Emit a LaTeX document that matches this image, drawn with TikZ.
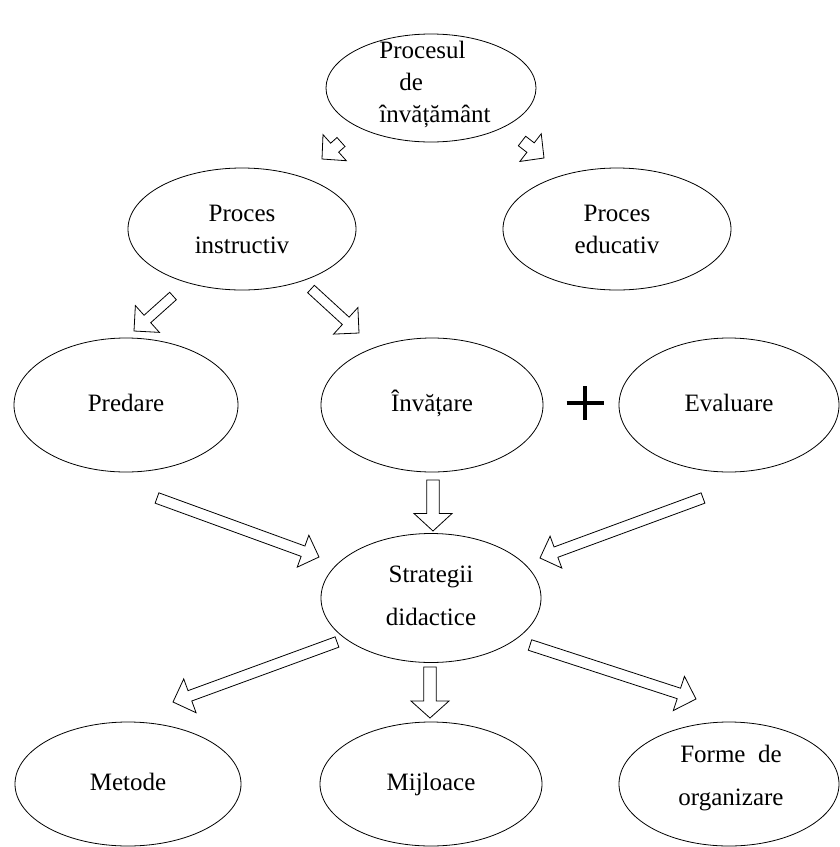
\documentclass[tikz,border=0pt]{standalone}
\usepackage{fontspec}
\setmainfont{Liberation Serif}
\usetikzlibrary{shapes.geometric,calc}
\tikzset{
  ell/.style={draw, ellipse, line width=0.8pt, inner sep=0pt},
  txt/.style={align=center, inner sep=0pt, font=\fontsize{25}{32}\selectfont},
  wide/.style={font=\fontsize{25}{43}\selectfont},
  one/.style={text height=17pt, text depth=5pt},
  barrow/.style={draw, line width=0.8pt, line join=miter, fill=white},
  plusbar/.style={line width=4.2pt}
}
% tail, tip, half shaft, half head, head length
\newcommand{\hollowarr}[5]{%
  \coordinate (ba-c) at ($(#2)!#5!(#1)$);
  \draw[barrow] ($(#1)!#3!90:(#2)$) -- ($(ba-c)!#3!90:(#2)$) -- ($(ba-c)!#4!90:(#2)$)
     -- (#2) -- ($(ba-c)!#4!-90:(#2)$) -- ($(ba-c)!#3!-90:(#2)$) -- ($(#1)!#3!-90:(#2)$) -- cycle;}
\begin{document}
\begin{tikzpicture}[x=1pt,y=-1pt]
\useasboundingbox[fill=white] (0,0) rectangle (840,847);
% ellipses
\node[ell, minimum width=210pt, minimum height=108pt] (top) at (431,88) {};
\node[ell, minimum width=228pt, minimum height=122pt] (inst) at (242,229) {};
\node[ell, minimum width=228pt, minimum height=122pt] (educ) at (617,229) {};
\node[ell, minimum width=224pt, minimum height=134pt] (pred) at (126,405) {};
\node[ell, minimum width=222pt, minimum height=134pt] (inva) at (432,405) {};
\node[ell, minimum width=220pt, minimum height=134pt] (eval) at (729,405) {};
\node[ell, minimum width=220pt, minimum height=129pt] (strat) at (431,598) {};
\node[ell, minimum width=226pt, minimum height=124pt] (met) at (128,784) {};
\node[ell, minimum width=222pt, minimum height=124pt] (mij) at (431,784) {};
\node[ell, minimum width=220pt, minimum height=124pt] (forme) at (729,784) {};
% texts
\node[txt, align=left] (ttop) at ($(top)+(4,-4)$) {Procesul\\\hspace*{20pt}de\\învățământ};
\node[txt] (tinst) at (inst) {Proces\\instructiv};
\node[txt] (teduc) at (educ) {Proces\\educativ};
\node[txt, one] (tpred) at (pred) {Predare};
\node[txt, one] (tinva) at (inva) {Învățare};
\node[txt, one] (teval) at (eval) {Evaluare};
\node[txt, wide] (tstrat) at ($(strat)+(0,-2)$) {Strategii\\didactice};
\node[txt, one] (tmet) at (met) {Metode};
\node[txt, one] (tmij) at (mij) {Mijloace};
\node[txt, wide] (tforme) at ($(forme)+(2,-6)$) {Forme\ \ de\\organizare};
% plus sign
\coordinate (plusc) at (585,403);
\draw[plusbar] ($(plusc)+(-18.5,0)$) -- ($(plusc)+(18.5,0)$);
\draw[plusbar] ($(plusc)+(0,-17)$) -- ($(plusc)+(0,17)$);
% arrow end points
\coordinate (a1t) at (341,142);   \coordinate (a1h) at (322,159);
\coordinate (a2t) at (522,141);   \coordinate (a2h) at (544,158);
\coordinate (a3t) at (173,296);   \coordinate (a3h) at (134,331);
\coordinate (a4t) at (311,289);   \coordinate (a4h) at (359,333);
\coordinate (a5t) at (157,498);   \coordinate (a5h) at (319,557);
\coordinate (a6t) at (433,480);   \coordinate (a6h) at (433,531);
\coordinate (a7t) at (703,498);   \coordinate (a7h) at (540,558);
\coordinate (a8t) at (337,642);   \coordinate (a8h) at (173,702);
\coordinate (a9t) at (430,667);   \coordinate (a9h) at (430,718);
\coordinate (a10t) at (530,645);  \coordinate (a10h) at (696,699);
% arrows
\hollowarr{a1t}{a1h}{6pt}{17.5pt}{17pt}
\hollowarr{a2t}{a2h}{6pt}{17.5pt}{17pt}
\hollowarr{a3t}{a3h}{5pt}{18pt}{18pt}
\hollowarr{a4t}{a4h}{5pt}{18pt}{18pt}
\hollowarr{a5t}{a5h}{5.5pt}{17pt}{17pt}
\hollowarr{a6t}{a6h}{6.3pt}{19pt}{17.5pt}
\hollowarr{a7t}{a7h}{5.5pt}{17pt}{17pt}
\hollowarr{a8t}{a8h}{5.5pt}{18pt}{18pt}
\hollowarr{a9t}{a9h}{6.3pt}{19pt}{17pt}
\hollowarr{a10t}{a10h}{5.5pt}{18pt}{18pt}
\end{tikzpicture}
\end{document}
